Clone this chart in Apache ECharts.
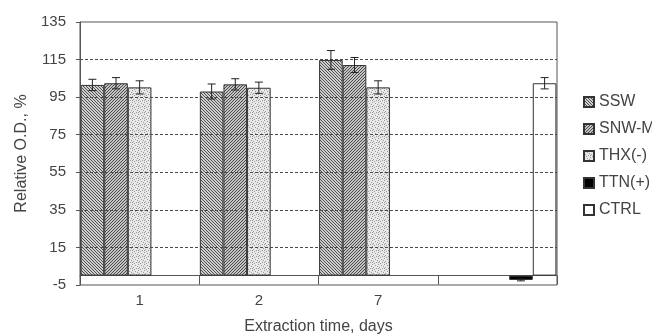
<!DOCTYPE html>
<html><head><meta charset="utf-8">
<script src="https://cdn.jsdelivr.net/npm/echarts@6/dist/echarts.min.js"></script>
<style>html,body{margin:0;padding:0;background:#fff}#c{width:652px;height:336px}</style>
</head><body><div id="c"></div>
<script>
const categories = ['1', '2', '7', ''];
const seriesNames = ['SSW', 'SNW-M', 'THX(-)', 'TTN(+)', 'CTRL'];
const SSW = [101.5, 98, 114.8, null];
const SNW_M = [102.4, 101.8, 112.1, null];
const THX = [100.2, 100, 100.2, null];
const TTN = [null, null, null, -2.3];
const CTRL = [null, null, null, 102.4];
const SSW_err = [3, 4, 5, null];
const SNW_M_err = [3, 3, 4, null];
const THX_err = [3.5, 3, 3.5, null];
const TTN_err = [null, null, null, 0.5];
const CTRL_err = [null, null, null, 3];
const yTicks = [-5, 15, 35, 55, 75, 95, 115, 135];
const gridValues = [15, 35, 55, 75, 95, 115];

function pattern(kind) {
  const c = document.createElement('canvas');
  c.width = 6; c.height = 6;
  const g = c.getContext('2d');
  if (kind === 'ssw') {
    g.fillStyle = '#cfcfcf'; g.fillRect(0, 0, 6, 6);
    g.fillStyle = '#505050';
    for (let y = 0; y < 6; y++) for (let x = 0; x < 6; x++) if (((x - y) % 3 + 3) % 3 === 0) g.fillRect(x, y, 1, 1);
  } else if (kind === 'snw') {
    g.fillStyle = '#c4c4c4'; g.fillRect(0, 0, 6, 6);
    g.fillStyle = '#4a4a4a';
    for (let y = 0; y < 6; y++) for (let x = 0; x < 6; x++) if ((x + y) % 3 === 0) g.fillRect(x, y, 1, 1);
  } else {
    g.fillStyle = '#e8e8e8'; g.fillRect(0, 0, 6, 6);
    g.fillStyle = '#9a9a9a';
    [[0,0],[3,1],[5,2],[1,3],[4,4],[2,5],[0,4]].forEach(p => g.fillRect(p[0], p[1], 1, 1));
  }
  return { image: c, repeat: 'repeat' };
}

const values = [SSW, SNW_M, THX, TTN, CTRL];
const errs = [SSW_err, SNW_M_err, THX_err, TTN_err, CTRL_err];
const fills = [pattern('ssw'), pattern('snw'), pattern('thx'), '#000000', '#ffffff'];
const nS = values.length;
const catGap = 0.01;

const errData = [];
errs.forEach((arr, s) => arr.forEach((e, i) => {
  if (e != null && values[s][i] != null) errData.push([i, values[s][i] - e, values[s][i] + e, s]);
}));

const barSeries = values.map((v, s) => ({
  name: seriesNames[s], type: 'bar', data: v,
  barGap: '0%', barCategoryGap: (catGap * 100) + '%',
  itemStyle: { color: fills[s], borderColor: '#333', borderWidth: 1 },
  emphasis: { disabled: true },
  markLine: s === 0 ? {
    silent: true, symbol: 'none', label: { show: false },
    lineStyle: { color: '#4a4a4a', type: [3, 2], width: 1.2 },
    data: gridValues.map(y => ({ yAxis: y }))
  } : undefined,
  z: 3
}));

const chart = echarts.init(document.getElementById('c'), null, { renderer: 'canvas' });
chart.setOption({
  animation: false,
  backgroundColor: '#fff',
  textStyle: { fontFamily: 'Liberation Sans, Arial, sans-serif' },
  grid: { left: 80, right: 95, top: 22, bottom: 51, outerBoundsMode: 'none', containLabel: false,
    show: true, borderColor: '#555', borderWidth: 1, backgroundColor: 'transparent' },
  legend: {
    orient: 'vertical', left: 578, top: 89, itemWidth: 10, itemHeight: 10, itemGap: 11,
    icon: 'rect', selectedMode: false,
    textStyle: { fontSize: 16, color: '#444', lineHeight: 16, fontFamily: 'Liberation Sans, Arial, sans-serif' },
    data: seriesNames
  },
  xAxis: {
    type: 'category', data: categories,
    axisLine: { onZero: true, lineStyle: { color: '#555', width: 1 } },
    axisTick: { show: true, length: 9, lineStyle: { color: '#555' } },
    axisLabel: { color: '#444', fontSize: 15, margin: 8 },
    name: 'Extraction time, days', nameLocation: 'middle', nameGap: 34,
    nameTextStyle: { color: '#444', fontSize: 16 }
  },
  yAxis: {
    type: 'value', min: -5, max: 135,
    axisLine: { show: true, onZero: false, lineStyle: { color: '#555' } },
    axisTick: { show: true, length: 4, customValues: yTicks, lineStyle: { color: '#555' } },
    axisLabel: { color: '#444', fontSize: 15, margin: 14, customValues: yTicks },
    splitLine: { show: false },
    name: 'Relative O.D., %', nameLocation: 'middle', nameGap: 48,
    nameTextStyle: { color: '#444', fontSize: 16 }
  },
  series: barSeries.concat([{
    type: 'custom', name: 'err', data: errData, z: 5, silent: true,
    renderItem: function (params, api) {
      const cat = api.value(0);
      const lo = api.coord([cat, api.value(1)]);
      const hi = api.coord([cat, api.value(2)]);
      const band = api.size([1, 0])[0];
      const bw = band * (1 - catGap) / nS;
      const x = lo[0] + (api.value(3) - (nS - 1) / 2) * bw;
      const cap = 4;
      const st = { stroke: '#222', lineWidth: 1 };
      return { type: 'group', children: [
        { type: 'line', shape: { x1: x, y1: lo[1], x2: x, y2: hi[1] }, style: st },
        { type: 'line', shape: { x1: x - cap, y1: lo[1], x2: x + cap, y2: lo[1] }, style: st },
        { type: 'line', shape: { x1: x - cap, y1: hi[1], x2: x + cap, y2: hi[1] }, style: st }
      ]};
    }
  }])
});
</script></body></html>
